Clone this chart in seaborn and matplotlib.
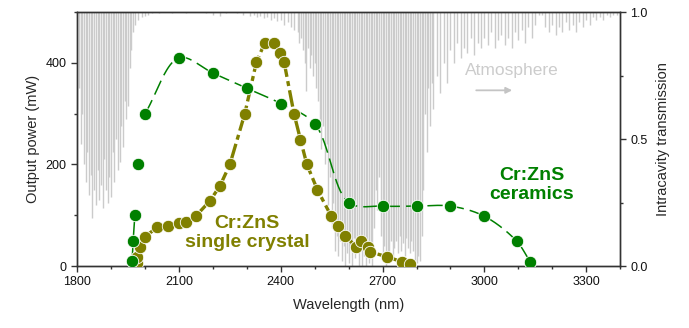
import numpy as np
import matplotlib
matplotlib.use('Agg')
import matplotlib.pyplot as plt
from matplotlib.ticker import MultipleLocator
import seaborn as sns

# ---------------------------------------------------------------
# data
# ---------------------------------------------------------------
# Cr:ZnS ceramics (green)
ceramics_wl = [1962, 1965, 1970, 1980, 2000, 2100, 2200, 2300, 2400, 2500,
               2600, 2700, 2800, 2900, 3000, 3095, 3135]
ceramics_mw = [10, 50, 100, 200, 300, 410, 380, 350, 320, 280,
               125, 118, 118, 118, 98, 49, 8]

# Cr:ZnS single crystal (olive)
crystal_wl = [1975, 1977, 1985, 2000, 2036, 2069, 2100, 2120, 2149, 2191,
              2221, 2250, 2294, 2328, 2353, 2380, 2397, 2410, 2439, 2458,
              2477, 2508, 2549, 2569, 2590, 2622, 2635, 2657, 2662, 2714,
              2758, 2782]
crystal_mw = [5, 18, 38, 58, 76, 79, 84, 87, 98, 128,
              158, 200, 300, 401, 440, 440, 420, 401, 300, 249,
              200, 150, 98, 79, 59, 38, 49, 38, 28, 18,
              8, 3]

# atmosphere transmission, deepest line in each small wavelength bin
atm_wl_a = np.arange(1800, 1970, 5)
atm_tr_a = [0.62, 0.70, 0.48, 0.60, 0.40, 0.33, 0.45, 0.28, 0.36, 0.19,
            0.30, 0.24, 0.38, 0.26, 0.32, 0.23, 0.42, 0.30, 0.25, 0.35,
            0.27, 0.45, 0.33, 0.50, 0.38, 0.41, 0.55, 0.47, 0.65, 0.58,
            0.63, 0.78, 0.85, 0.92]
atm_wl_b = np.arange(1970, 2450, 10)
atm_tr_b = [0.95, 0.97, 0.98, 0.985, 0.99, 0.995, 1.0, 0.995, 1.0, 1.0,
            1.0, 0.995, 1.0, 1.0, 1.0, 0.995, 1.0, 1.0, 1.0, 1.0,
            1.0, 0.995, 1.0, 0.99, 1.0, 0.985, 1.0, 0.995, 1.0, 1.0,
            0.995, 1.0, 0.99, 1.0, 0.985, 0.99, 0.98, 0.985, 0.975, 0.98,
            0.97, 0.975, 0.965, 0.97, 0.95, 0.96, 0.94, 0.93]
atm_wl_c = np.arange(2450, 2855, 5)
atm_tr_c = [0.92, 0.88, 0.90, 0.85, 0.80, 0.69, 0.86, 0.78, 0.83, 0.75,
            0.80, 0.70, 0.65, 0.58, 0.46, 0.55, 0.40, 0.48, 0.24, 0.35,
            0.15, 0.25, 0.06, 0.12, 0.04, 0.10, 0.02, 0.08, 0.00, 0.05,
            0.01, 0.07, 0.00, 0.11, 0.03, 0.09, 0.00, 0.06, 0.00, 0.04,
            0.00, 0.08, 0.01, 0.05, 0.00, 0.15, 0.30, 0.22, 0.35, 0.12,
            0.02, 0.08, 0.00, 0.05, 0.01, 0.10, 0.03, 0.07, 0.10, 0.05,
            0.12, 0.06, 0.09, 0.04, 0.11, 0.07, 0.05, 0.10, 0.06, 0.02,
            0.01, 0.04, 0.02, 0.12, 0.30, 0.60, 0.45, 0.70, 0.55, 0.72,
            0.62]
atm_wl_d = np.arange(2860, 3400, 10)
atm_tr_d = [0.75, 0.68, 0.80, 0.72, 0.85, 0.80, 0.88, 0.82, 0.86, 0.84,
            0.90, 0.83, 0.88, 0.86, 0.90, 0.87, 0.92, 0.86, 0.89, 0.91,
            0.87, 0.90, 0.86, 0.92, 0.89, 0.93, 0.88, 0.94, 0.90, 0.95,
            0.99, 0.99, 0.94, 0.92, 0.95, 0.91, 0.94, 0.92, 0.96, 0.93,
            0.95, 0.92, 0.96, 0.94, 0.97, 0.95, 0.98, 0.97, 0.98, 0.97,
            0.99, 0.98, 0.99, 0.99]

x_ticks = [1800, 2100, 2400, 2700, 3000, 3300]
y_ticks = [0, 200, 400]
tr_ticks = [0.0, 0.5, 1.0]

GREEN = '#008000'
OLIVE = '#808000'
ATM = '#cbcbcb'
XLIM = (1800, 3400)
YLIM = (0, 500)


def smooth_path(x, y, aspect, n=40):
    # centripetal Catmull-Rom through the points, in normalised axes units
    px = (np.asarray(x, float) - XLIM[0]) / (XLIM[1] - XLIM[0]) * aspect
    py = (np.asarray(y, float) - YLIM[0]) / (YLIM[1] - YLIM[0])
    P = np.column_stack([px, py])
    P = np.vstack([2 * P[0] - P[1], P, 2 * P[-1] - P[-2]])
    out = []
    for i in range(1, len(P) - 2):
        p0, p1, p2, p3 = P[i - 1], P[i], P[i + 1], P[i + 2]
        t0 = 0.0
        t1 = t0 + np.linalg.norm(p1 - p0) ** 0.5
        t2 = t1 + np.linalg.norm(p2 - p1) ** 0.5
        t3 = t2 + np.linalg.norm(p3 - p2) ** 0.5
        t = np.linspace(t1, t2, n)[:, None]
        a1 = (t1 - t) / (t1 - t0) * p0 + (t - t0) / (t1 - t0) * p1
        a2 = (t2 - t) / (t2 - t1) * p1 + (t - t1) / (t2 - t1) * p2
        a3 = (t3 - t) / (t3 - t2) * p2 + (t - t2) / (t3 - t2) * p3
        b1 = (t2 - t) / (t2 - t0) * a1 + (t - t0) / (t2 - t0) * a2
        b2 = (t3 - t) / (t3 - t1) * a2 + (t - t1) / (t3 - t1) * a3
        c = (t2 - t) / (t2 - t1) * b1 + (t - t1) / (t2 - t1) * b2
        out.append(c)
    out = np.vstack(out)
    sx = out[:, 0] / aspect * (XLIM[1] - XLIM[0]) + XLIM[0]
    sy = out[:, 1] * (YLIM[1] - YLIM[0]) + YLIM[0]
    return sx, sy


sns.set_style('ticks')
plt.rcParams['font.family'] = ['Liberation Sans', 'DejaVu Sans']
plt.rcParams['axes.edgecolor'] = '#333333'
plt.rcParams['axes.linewidth'] = 1.0

fig = plt.figure(figsize=(6.89, 3.28), dpi=100)
ax = fig.add_axes([0.112, 0.189, 0.788, 0.774])
ax2 = ax.twinx()

# atmosphere on the right axis, behind everything
for wl, tr in [(atm_wl_a, atm_tr_a), (atm_wl_b, atm_tr_b),
               (atm_wl_c, atm_tr_c), (atm_wl_d, atm_tr_d)]:
    ax2.vlines(wl, tr, 1.0, color=ATM, lw=1.0, zorder=1)
ax2.set_ylim(0, 1)
ax2.yaxis.set_minor_locator(MultipleLocator(0.25))
ax2.set_yticks(tr_ticks)
ax2.set_yticklabels([f'{v:.1f}' for v in tr_ticks])
ax2.set_ylabel('Intracavity transmission', fontsize=10.5, labelpad=6)

ax.set_zorder(ax2.get_zorder() + 1)
ax.patch.set_visible(False)

aspect = 0.788 * 6.89 / (0.774 * 3.28)

# ceramics: short solid foot, then a smooth dashed curve from 2000 nm on
ax.plot(ceramics_wl[:3], ceramics_mw[:3], color=GREEN, lw=1.1, zorder=2)
sx, sy = smooth_path(ceramics_wl[4:], ceramics_mw[4:], aspect)
ax.plot(sx, sy, color=GREEN, lw=1.1, dashes=(10, 4), zorder=2)
# single crystal: thick dash-dot line
ax.plot(crystal_wl, crystal_mw, color=OLIVE, lw=2.4, dashes=(5, 1.3, 1.5, 1.3),
        zorder=2)

sns.scatterplot(x=crystal_wl, y=crystal_mw, ax=ax, color=OLIVE, s=80,
                edgecolor='white', linewidth=0.6, zorder=3)
sns.scatterplot(x=ceramics_wl, y=ceramics_mw, ax=ax, color=GREEN, s=80,
                edgecolor='white', linewidth=0.6, zorder=4)

ax.set_xlim(*XLIM)
ax.set_ylim(*YLIM)
ax.set_xticks(x_ticks)
ax.xaxis.set_minor_locator(MultipleLocator(100))
ax.set_yticks(y_ticks)
ax.yaxis.set_minor_locator(MultipleLocator(100))
ax.set_xlabel('Wavelength (nm)', fontsize=10.5, labelpad=7)
ax.set_ylabel('Output power (mW)', fontsize=10.5, labelpad=4)

for a in (ax, ax2):
    a.tick_params(which='major', direction='out', length=4, width=1,
                  labelsize=9, colors='#333333', labelcolor='#111111')
    a.tick_params(which='minor', direction='out', length=2.5, width=1,
                  colors='#333333')
    for s in a.spines.values():
        s.set_visible(True)
        s.set_color('#333333')

ax.text(2300, 65, 'Cr:ZnS\nsingle crystal', color=OLIVE, fontsize=14,
        fontweight='bold', ha='center', va='center', linespacing=1.15, zorder=5)
ax.text(3140, 160, 'Cr:ZnS\nceramics', color=GREEN, fontsize=14,
        fontweight='bold', ha='center', va='center', linespacing=1.15, zorder=5)
ax.text(3082, 386, 'Atmosphere', color='#cccccc', fontsize=12.5,
        ha='center', va='center', zorder=5)
ax.annotate('', xy=(3082, 346), xytext=(2976, 346),
            arrowprops=dict(arrowstyle='-|>', color='#c4c4c4', lw=1.3,
                            mutation_scale=9, shrinkA=0, shrinkB=0))

fig.savefig('out.png', dpi=100)
